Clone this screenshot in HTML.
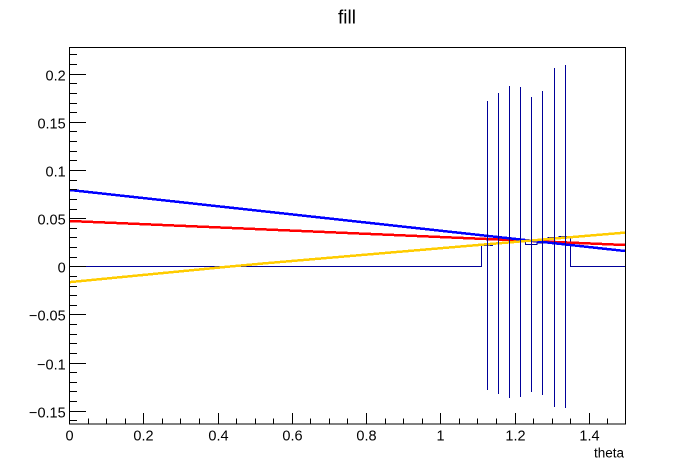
<!DOCTYPE html>
<html>
<head>
<meta charset="utf-8">
<style>
html,body{margin:0;padding:0;background:#fff;}
svg{display:block;}
text{font-family:"Liberation Sans",Arial,sans-serif;fill:#000;}
</style>
</head>
<body>
<svg width="696" height="472" viewBox="0 0 696 472" xmlns="http://www.w3.org/2000/svg">
<rect x="0" y="0" width="696" height="472" fill="#fff"/>

<!-- title -->
<text x="347" y="23.5" font-size="19" text-anchor="middle">fill</text>

<!-- thin histogram -->
<path d="M69,266.5 H481.5 V245.5 H492.5 V243.5 H503.5 V242 H514.5 V242 H525.5 V244.5 H537 V243 H548 V237.5 H559 V236.5 H570.5 V266.5 H626" fill="none" stroke="#000099" stroke-width="1"/>

<!-- thick lines -->
<g shape-rendering="crispEdges">
<line x1="70" y1="221" x2="625" y2="245" stroke="#ff0000" stroke-width="2.5"/>
<line x1="70" y1="190" x2="625" y2="251" stroke="#0000ff" stroke-width="2.5"/>
<polyline points="70,282.1 230,266.5 265,263.3 470,245.7 625,232.6" fill="none" stroke="#ffcc00" stroke-width="2.5"/>
</g>

<!-- error bars -->
<g stroke="#000099" stroke-width="1">
<line x1="487.5" y1="101" x2="487.5" y2="390"/>
<line x1="498.5" y1="93" x2="498.5" y2="394"/>
<line x1="509.5" y1="86" x2="509.5" y2="398"/>
<line x1="520.5" y1="87" x2="520.5" y2="397"/>
<line x1="531.5" y1="97" x2="531.5" y2="392"/>
<line x1="542.5" y1="91" x2="542.5" y2="395"/>
<line x1="554.5" y1="68" x2="554.5" y2="407"/>
<line x1="565.5" y1="65" x2="565.5" y2="408"/>
</g>

<!-- frame -->
<rect x="69.5" y="47.5" width="556" height="376.5" fill="none" stroke="#000" stroke-width="1"/>

<!-- y ticks -->
<g stroke="#000" stroke-width="1">
<line x1="69" y1="54.5" x2="77" y2="54.5"/>
<line x1="69" y1="64.5" x2="77" y2="64.5"/>
<line x1="69" y1="74.5" x2="86" y2="74.5"/>
<line x1="69" y1="83.5" x2="77" y2="83.5"/>
<line x1="69" y1="93.5" x2="77" y2="93.5"/>
<line x1="69" y1="103.5" x2="77" y2="103.5"/>
<line x1="69" y1="112.5" x2="77" y2="112.5"/>
<line x1="69" y1="122.5" x2="86" y2="122.5"/>
<line x1="69" y1="131.5" x2="77" y2="131.5"/>
<line x1="69" y1="141.5" x2="77" y2="141.5"/>
<line x1="69" y1="151.5" x2="77" y2="151.5"/>
<line x1="69" y1="160.5" x2="77" y2="160.5"/>
<line x1="69" y1="170.5" x2="86" y2="170.5"/>
<line x1="69" y1="180.5" x2="77" y2="180.5"/>
<line x1="69" y1="189.5" x2="77" y2="189.5"/>
<line x1="69" y1="199.5" x2="77" y2="199.5"/>
<line x1="69" y1="209.5" x2="77" y2="209.5"/>
<line x1="69" y1="218.5" x2="86" y2="218.5"/>
<line x1="69" y1="228.5" x2="77" y2="228.5"/>
<line x1="69" y1="237.5" x2="77" y2="237.5"/>
<line x1="69" y1="247.5" x2="77" y2="247.5"/>
<line x1="69" y1="257.5" x2="77" y2="257.5"/>
<line x1="69" y1="266.5" x2="86" y2="266.5"/>
<line x1="69" y1="276.5" x2="77" y2="276.5"/>
<line x1="69" y1="286.5" x2="77" y2="286.5"/>
<line x1="69" y1="295.5" x2="77" y2="295.5"/>
<line x1="69" y1="305.5" x2="77" y2="305.5"/>
<line x1="69" y1="314.5" x2="86" y2="314.5"/>
<line x1="69" y1="324.5" x2="77" y2="324.5"/>
<line x1="69" y1="334.5" x2="77" y2="334.5"/>
<line x1="69" y1="343.5" x2="77" y2="343.5"/>
<line x1="69" y1="353.5" x2="77" y2="353.5"/>
<line x1="69" y1="363.5" x2="86" y2="363.5"/>
<line x1="69" y1="372.5" x2="77" y2="372.5"/>
<line x1="69" y1="382.5" x2="77" y2="382.5"/>
<line x1="69" y1="391.5" x2="77" y2="391.5"/>
<line x1="69" y1="401.5" x2="77" y2="401.5"/>
<line x1="69" y1="411.5" x2="86" y2="411.5"/>
<line x1="69" y1="420.5" x2="77" y2="420.5"/>
</g>

<!-- x ticks -->
<g stroke="#000" stroke-width="1">
<line x1="69.5" y1="424" x2="69.5" y2="413"/>
<line x1="88.5" y1="424" x2="88.5" y2="418.5"/>
<line x1="106.5" y1="424" x2="106.5" y2="418.5"/>
<line x1="125.5" y1="424" x2="125.5" y2="418.5"/>
<line x1="143.5" y1="424" x2="143.5" y2="413"/>
<line x1="162.5" y1="424" x2="162.5" y2="418.5"/>
<line x1="180.5" y1="424" x2="180.5" y2="418.5"/>
<line x1="199.5" y1="424" x2="199.5" y2="418.5"/>
<line x1="218.5" y1="424" x2="218.5" y2="413"/>
<line x1="236.5" y1="424" x2="236.5" y2="418.5"/>
<line x1="255.5" y1="424" x2="255.5" y2="418.5"/>
<line x1="273.5" y1="424" x2="273.5" y2="418.5"/>
<line x1="292.5" y1="424" x2="292.5" y2="413"/>
<line x1="310.5" y1="424" x2="310.5" y2="418.5"/>
<line x1="329.5" y1="424" x2="329.5" y2="418.5"/>
<line x1="347.5" y1="424" x2="347.5" y2="418.5"/>
<line x1="366.5" y1="424" x2="366.5" y2="413"/>
<line x1="385.5" y1="424" x2="385.5" y2="418.5"/>
<line x1="403.5" y1="424" x2="403.5" y2="418.5"/>
<line x1="422.5" y1="424" x2="422.5" y2="418.5"/>
<line x1="440.5" y1="424" x2="440.5" y2="413"/>
<line x1="459.5" y1="424" x2="459.5" y2="418.5"/>
<line x1="477.5" y1="424" x2="477.5" y2="418.5"/>
<line x1="496.5" y1="424" x2="496.5" y2="418.5"/>
<line x1="515.5" y1="424" x2="515.5" y2="413"/>
<line x1="533.5" y1="424" x2="533.5" y2="418.5"/>
<line x1="552.5" y1="424" x2="552.5" y2="418.5"/>
<line x1="570.5" y1="424" x2="570.5" y2="418.5"/>
<line x1="589.5" y1="424" x2="589.5" y2="413"/>
<line x1="607.5" y1="424" x2="607.5" y2="418.5"/>
</g>

<!-- y labels -->
<g font-size="14.5" text-anchor="end">
<text x="65.7" y="80.3">0.2</text>
<text x="65.7" y="128.3">0.15</text>
<text x="65.7" y="176.3">0.1</text>
<text x="65.7" y="224.3">0.05</text>
<text x="65.7" y="272.3">0</text>
<text x="65.7" y="320.3">−0.05</text>
<text x="65.7" y="369.3">−0.1</text>
<text x="65.7" y="417.3">−0.15</text>
</g>

<!-- x labels -->
<g font-size="14.5" text-anchor="middle">
<text x="69.5" y="440.7">0</text>
<text x="143.5" y="440.7">0.2</text>
<text x="218.5" y="440.7">0.4</text>
<text x="292.5" y="440.7">0.6</text>
<text x="366.5" y="440.7">0.8</text>
<text x="440.5" y="440.7">1</text>
<text x="515.5" y="440.7">1.2</text>
<text x="589.5" y="440.7">1.4</text>
</g>

<!-- axis title -->
<text x="624" y="457.3" font-size="13.5" text-anchor="end">theta</text>
</svg>
</body>
</html>
